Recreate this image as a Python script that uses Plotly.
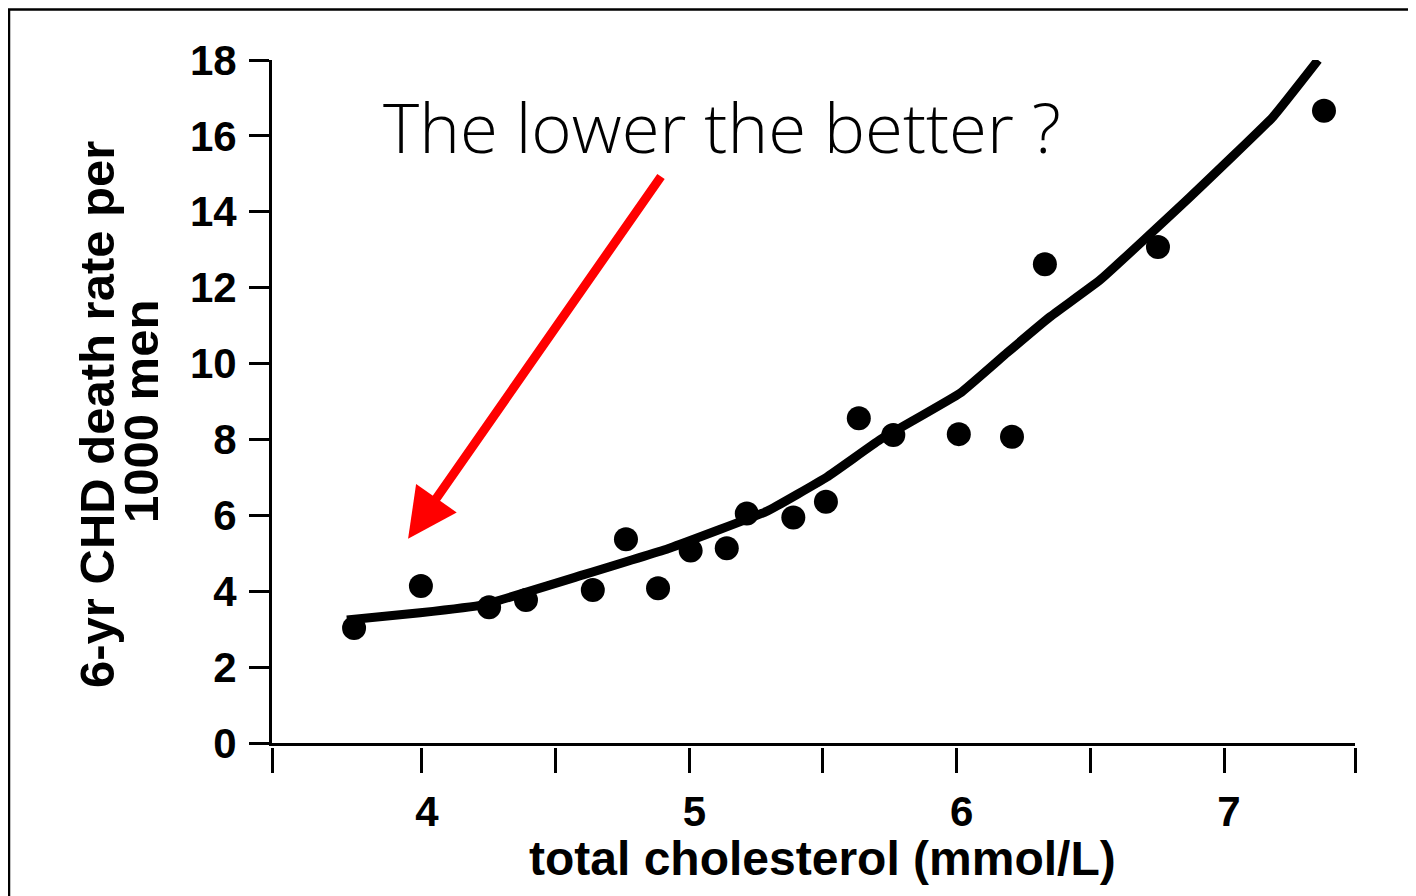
import plotly.graph_objects as go

# Observed data points: total cholesterol (mmol/L) vs 6-yr CHD death rate per 1000 men
chol = [3.746, 3.996, 4.251, 4.389, 4.639, 4.763, 4.883, 5.005, 5.140, 5.215,
        5.389, 5.511, 5.634, 5.763, 6.008, 6.207, 6.330, 6.753, 7.374]
rate = [3.03, 4.14, 3.58, 3.77, 4.03, 5.37, 4.08, 5.07, 5.13, 6.05,
        5.94, 6.36, 8.56, 8.12, 8.14, 8.07, 12.62, 13.07, 16.66]

# Fitted curve
fit_chol = [3.719, 3.993, 4.228, 4.602, 4.928, 5.291, 5.515, 5.713, 6.013,
            6.188, 6.349, 6.536, 6.873, 7.183, 7.352]
fit_rate = [3.24, 3.43, 3.64, 4.43, 5.14, 6.11, 7.01, 7.99, 9.22,
            10.28, 11.23, 12.20, 14.39, 16.50, 18.0]

x_range = [3.439, 7.49]
y_range = [0, 18]
x_tickvals = [3.439, 4, 4.5, 5, 5.5, 6, 6.5, 7, 7.49]
x_ticktext = ["", "4", "", "5", "", "6", "", "7", ""]
y_tickvals = [0, 2, 4, 6, 8, 10, 12, 14, 16, 18]

annotation_text = "The lower the better ?"
x_title = "total cholesterol (mmol/L)"
y_title_lines = ["6-yr CHD death rate per", "1000 men"]

# Page body has an 8px default margin; work in screen pixels and convert.
OFF = 8
W, H = 1416, 896
ML, MR, MT, MB = 272 - OFF, W - (1355 - OFF), 60 - OFF, H - (747 - OFF)
PW = W - ML - MR
PH = H - MT - MB

def px_x(p):
    return (p - OFF - ML) / PW

def px_y(p):
    return (H - MB - (p - OFF)) / PH

fig = go.Figure()

fig.add_trace(go.Scatter(
    x=fit_chol, y=fit_rate, mode="lines",
    line=dict(color="black", width=9, shape="spline", smoothing=0.3),
    xaxis="x", yaxis="y", hoverinfo="skip", showlegend=False,
))
fig.add_trace(go.Scatter(
    x=chol, y=rate, mode="markers",
    marker=dict(color="black", size=24, line=dict(width=0)),
    xaxis="x2", yaxis="y", showlegend=False,
))

tick_font = dict(family="Liberation Sans, Arial, sans-serif", size=42, color="black", weight="bold")

fig.update_layout(
    width=W, height=H,
    margin=dict(l=ML, r=MR, t=MT, b=MB, pad=0),
    paper_bgcolor="white",
    plot_bgcolor="rgba(0,0,0,0)",
    showlegend=False,
    xaxis=dict(
        range=x_range, anchor="y", showline=True, linecolor="black", linewidth=3,
        showgrid=False, zeroline=False, ticks="", showticklabels=False,
    ),
    xaxis2=dict(
        range=x_range, overlaying="x", anchor="free", position=0,
        showline=False, showgrid=False, zeroline=False,
        tickmode="array", tickvals=x_tickvals, ticktext=x_ticktext,
        ticks="outside", ticklen=25, tickwidth=3, tickcolor="black",
        tickfont=tick_font, ticklabelstandoff=3, ticklabelshift=5,
    ),
    yaxis=dict(
        range=y_range, domain=[4 / PH, 1], anchor="x",
        showline=True, linecolor="black", linewidth=3,
        showgrid=False, zeroline=False,
        tickmode="array", tickvals=y_tickvals,
        ticks="outside", ticklen=20, tickwidth=3, tickcolor="black",
        tickfont=tick_font, ticklabelstandoff=4,
    ),
    shapes=[dict(
        type="rect", xref="paper", yref="paper", layer="below",
        x0=px_x(9), x1=px_x(1440), y0=px_y(920), y1=px_y(9.5),
        fillcolor="white", line=dict(color="black", width=2.5),
    )],
)

# Red arrow
fig.add_annotation(
    x=3.948, y=5.38, ax=4.898, ay=14.97, xref="x", yref="y", axref="x", ayref="y",
    text="", showarrow=True, arrowhead=2, arrowsize=1.1, arrowwidth=9, arrowcolor="#ff0000",
)

# Headline text
fig.add_annotation(
    x=5.122, y=16.26, xref="x", yref="y", text=annotation_text, showarrow=False,
    xanchor="center", yanchor="middle",
    font=dict(family="Open Sans, Lato, sans-serif", size=69, color="black", weight=300),
)

# X-axis title
fig.add_annotation(
    x=px_x(822), y=px_y(858), xref="paper", yref="paper", text=x_title,
    showarrow=False, xanchor="center", yanchor="middle",
    font=dict(family="Liberation Sans, Arial, sans-serif", size=48, color="black", weight="bold"),
)

# Y-axis title, two lines
y_title_font = dict(family="Liberation Sans, Arial, sans-serif", size=49, color="black", weight="bold")
fig.add_annotation(
    x=px_x(97), y=px_y(415), xref="paper", yref="paper", text=y_title_lines[0],
    textangle=-90, showarrow=False, xanchor="center", yanchor="middle", font=y_title_font,
)
fig.add_annotation(
    x=px_x(141), y=px_y(412), xref="paper", yref="paper", text=y_title_lines[1],
    textangle=-90, showarrow=False, xanchor="center", yanchor="middle", font=y_title_font,
)

fig.write_html("out.html")
